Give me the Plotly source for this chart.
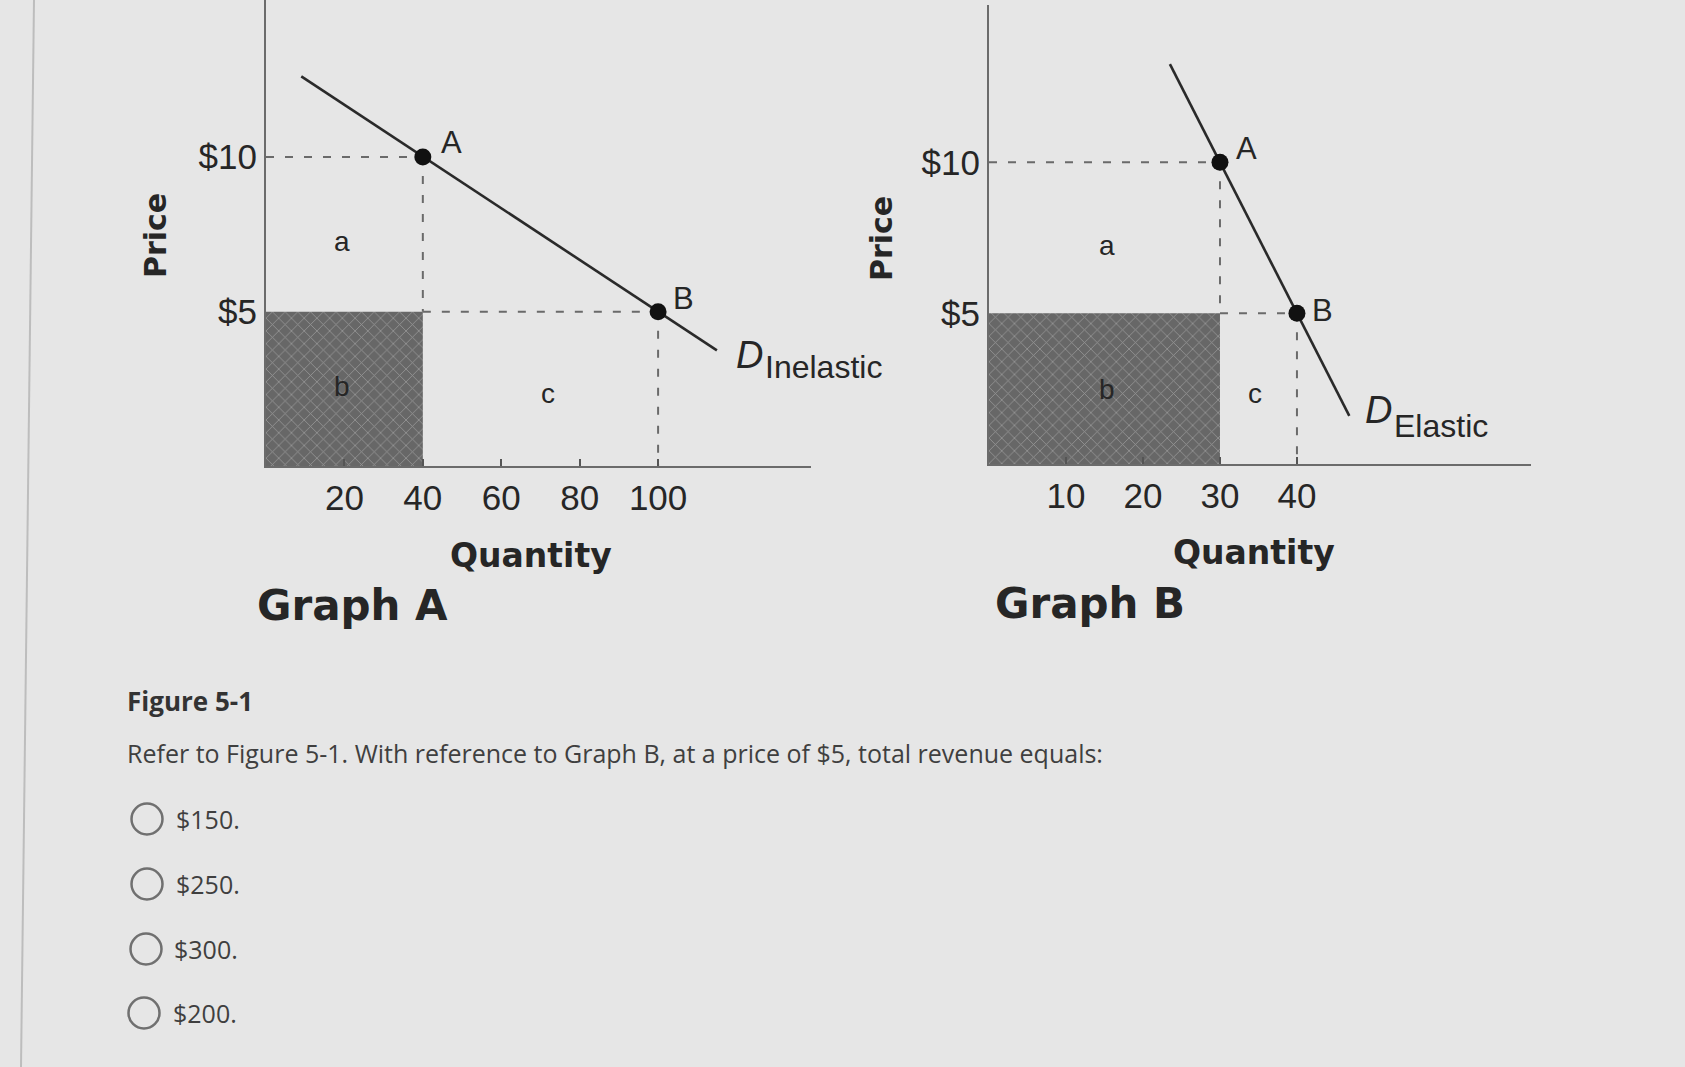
import plotly.graph_objects as go

W, H = 1685, 1067

# ---------------- data ----------------
# Graph A (inelastic demand)
qa_demand = [9, 115]
pa_demand = [12.6, 3.75]
qa_points = [40, 100]
pa_points = [10, 5]
point_labels = ["A", "B"]
qa_ticks = [20, 40, 60, 80, 100]
price_ticks = [5, 10]
price_ticktext = ["$5", "$10"]
qa_rect = 40          # quantity at shaded rectangle edge
p_low = 5             # price level of shaded rectangle

# Graph B (elastic demand)
qb_demand = [23.5, 46.8]
pb_demand = [13.25, 1.6]
qb_points = [30, 40]
pb_points = [10, 5]
qb_ticks = [10, 20, 30, 40]
qb_rect = 30

options = ["$150.", "$250.", "$300.", "$200."]

# ---------------- helpers ----------------
def px(x):
    return x / W

def py(y):
    return 1 - y / H

AX = "#6b6b6b"
DASH = "#6a6a6a"
TXT = "#262626"
CH_FONT = "Liberation Sans"
BOLD_FONT = "DejaVu Sans"

fig = go.Figure()

def add_graph(xr, yr, q_dem, p_dem, q_pts, p_pts, q_rect):
    # shaded rectangle (total revenue area b)
    fig.add_trace(go.Scatter(
        x=[0, q_rect, q_rect, 0, 0], y=[0, 0, p_low, p_low, 0],
        mode="lines", fill="toself", line=dict(width=0, color="#6f6f6f"),
        fillcolor="#7a7a7a",
        fillpattern=dict(shape="x", fgcolor="#c4c4c4", bgcolor="#676767",
                         size=9, solidity=0.18),
        xaxis=xr, yaxis=yr, hoverinfo="skip", showlegend=False))
    # dashed guides
    dash_sets = [
        ([0, q_pts[0]], [p_pts[0], p_pts[0]]),
        ([q_pts[0], q_pts[0]], [p_pts[0], p_pts[1]]),
        ([q_pts[0], q_pts[1]], [p_pts[1], p_pts[1]]),
        ([q_pts[1], q_pts[1]], [p_pts[1], 0]),
    ]
    for xs, ys in dash_sets:
        fig.add_trace(go.Scatter(
            x=xs, y=ys, mode="lines",
            line=dict(color=DASH, width=2, dash="8px,11px"),
            xaxis=xr, yaxis=yr, hoverinfo="skip", showlegend=False))
    # demand curve
    fig.add_trace(go.Scatter(
        x=q_dem, y=p_dem, mode="lines", line=dict(color="#2a2a2a", width=2.6),
        xaxis=xr, yaxis=yr, hoverinfo="skip", showlegend=False))
    # points
    fig.add_trace(go.Scatter(
        x=q_pts, y=p_pts, mode="markers",
        marker=dict(size=17, color="#111111"),
        xaxis=xr, yaxis=yr, hoverinfo="skip", showlegend=False))

add_graph("x", "y", qa_demand, pa_demand, qa_points, pa_points, qa_rect)
add_graph("x2", "y2", qb_demand, pb_demand, qb_points, pb_points, qb_rect)

common_x = dict(showline=True, linecolor=AX, linewidth=2, showgrid=False,
                zeroline=False, ticks="inside", ticklen=7, tickwidth=1.5,
                tickcolor="#555", tickfont=dict(family=CH_FONT, size=35, color=TXT),
                fixedrange=True)
common_y = dict(showline=True, linecolor=AX, linewidth=2, showgrid=False,
                zeroline=False, ticks="", tickvals=price_ticks, ticktext=price_ticktext,
                tickfont=dict(family=CH_FONT, size=35, color=TXT), fixedrange=True)

fig.update_layout(
    width=W, height=H,
    margin=dict(l=0, r=0, t=0, b=0),
    paper_bgcolor="#e6e6e6", plot_bgcolor="rgba(0,0,0,0)",
    showlegend=False,
    xaxis=dict(domain=[px(266), px(811)], range=[0, 139], tickvals=qa_ticks,
               anchor="y", **common_x),
    yaxis=dict(domain=[py(466.4), 1], range=[0, 15.07], anchor="x", **common_y),
    xaxis2=dict(domain=[px(989), px(1531)], range=[0, 70.4], tickvals=qb_ticks,
                anchor="y2", **common_x),
    yaxis2=dict(domain=[py(464.2), 0.995], range=[0, 15.2], anchor="x2", **common_y),
)

ann = []
def dtext(xr, yr, x, y, t, size, xanchor="center", italic=False, font=CH_FONT):
    ann.append(dict(xref=xr, yref=yr, x=x, y=y, text=t, showarrow=False,
                    xanchor=xanchor, yanchor="middle",
                    font=dict(family=font, size=size, color=TXT,
                              style="italic" if italic else "normal")))

# Graph A labels
dtext("x", "y", 47.3, 10.45, point_labels[0], 31)
dtext("x", "y", 106.5, 5.41, point_labels[1], 31)
dtext("x", "y", 19.5, 7.28, "a", 28)
dtext("x", "y", 19.5, 2.57, "b", 28)
dtext("x", "y", 72, 2.37, "c", 28)
dtext("x", "y", 119.3, 3.6, "D", 38, xanchor="left", italic=True)
dtext("x", "y", 126.8, 3.2, "Inelastic", 32, xanchor="left")

# Graph B labels
dtext("x2", "y2", 33.5, 10.47, point_labels[0], 31)
dtext("x2", "y2", 43.3, 5.09, point_labels[1], 31)
dtext("x2", "y2", 15.3, 7.25, "a", 28)
dtext("x2", "y2", 15.3, 2.47, "b", 28)
dtext("x2", "y2", 34.5, 2.34, "c", 28)
dtext("x2", "y2", 48.6, 1.8, "D", 38, xanchor="left", italic=True)
dtext("x2", "y2", 52.3, 1.25, "Elastic", 32, xanchor="left")

def ptext(x, y, t, size, family, color=TXT, xanchor="center", bold=False, angle=0):
    ann.append(dict(xref="paper", yref="paper", x=px(x), y=py(y), text=t,
                    showarrow=False, xanchor=xanchor, yanchor="middle",
                    textangle=angle,
                    font=dict(family=family, size=size, color=color,
                              weight="bold" if bold else "normal")))

ptext(156, 236, "Price", 30, BOLD_FONT, bold=True, angle=-90)
ptext(881, 239, "Price", 30, BOLD_FONT, bold=True, angle=-90)
ptext(531, 555, "Quantity", 33, BOLD_FONT, bold=True)
ptext(1254, 552, "Quantity", 33, BOLD_FONT, bold=True)
ptext(255, 605, "Graph A", 42, BOLD_FONT, bold=True, xanchor="left")
ptext(993, 603, "Graph B", 42, BOLD_FONT, bold=True, xanchor="left")

ptext(125, 701, "Figure 5-1", 26, "Open Sans", color="#333333", xanchor="left", bold=True)
ptext(125, 753,
      "Refer to Figure 5-1. With reference to Graph B, at a price of $5, total revenue equals:",
      25, "Open Sans", color="#3f3f3f", xanchor="left")

opt_y = [819, 884, 949, 1013]
opt_cx = [147, 147, 146, 144]
opt_tx = [174, 174, 172, 171]
shapes = []
for t, y, cx, tx in zip(options, opt_y, opt_cx, opt_tx):
    ptext(tx, y, t, 25, "Open Sans", color="#3f3f3f", xanchor="left")
    shapes.append(dict(type="circle", xref="paper", yref="paper",
                       x0=px(cx - 15.5), x1=px(cx + 15.5), y0=py(y + 15.5), y1=py(y - 15.5),
                       line=dict(color="#707070", width=2.5)))

# screen edge seen in the photo
shapes.append(dict(type="line", xref="paper", yref="paper",
                   x0=px(34), y0=1, x1=px(21), y1=0,
                   line=dict(color="#bdbdbd", width=2)))

fig.update_layout(annotations=ann, shapes=shapes)
fig.write_html(
    "out.html",
    config={"displayModeBar": False},
    post_script=("document.body.style.margin='0';"
                 "document.body.style.background='#e6e6e6';"
                 "document.documentElement.style.overflow='hidden';"),
)
